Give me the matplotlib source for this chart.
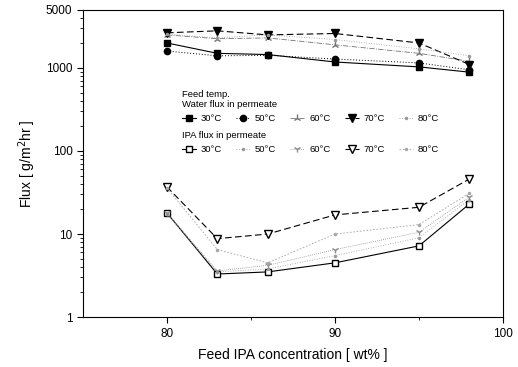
import matplotlib
matplotlib.use("Agg")
import matplotlib.pyplot as plt
from matplotlib.ticker import FixedLocator, NullFormatter

# feed IPA concentration (wt%)
conc = [80, 83, 86, 90, 95, 98]
temps = ["30°C", "50°C", "60°C", "70°C", "80°C"]

# water flux in permeate, g/m2hr
water_30 = [2000, 1500, 1450, 1180, 1030, 890]
water_50 = [1600, 1400, 1420, 1280, 1150, 950]
water_60 = [2500, 2250, 2300, 1900, 1500, 1200]
water_70 = [2650, 2800, 2500, 2600, 2000, 1100]
water_80 = [2550, 2300, 2500, 2200, 1700, 1400]

# IPA flux in permeate, g/m2hr
ipa_30 = [18, 3.3, 3.5, 4.5, 7.2, 23]
ipa_50 = [17.5, 3.5, 3.8, 5.5, 9, 26]
ipa_60 = [18, 3.6, 4.2, 6.5, 10.5, 28]
ipa_70 = [37, 8.8, 10, 17, 21, 46]
ipa_80 = [36, 6.5, 4.5, 10, 13, 31]

plt.rcParams['font.family'] = ['Liberation Sans', 'DejaVu Sans']

fig = plt.figure(figsize=(5.18, 3.67), dpi=100)
ax = fig.add_axes([0.160, 0.136, 0.811, 0.837])

water = [water_30, water_50, water_60, water_70, water_80]
ipa = [ipa_30, ipa_50, ipa_60, ipa_70, ipa_80]

w_style = [
    dict(color='black', ls='-', marker='s', ms=4.5, mfc='black', lw=0.8),
    dict(color='black', ls=(0, (1, 2)), marker='o', ms=4.5, mfc='black', lw=0.7),
    dict(color='0.45', ls='-.', marker='2', ms=5.5, lw=0.6),
    dict(color='black', ls=(0, (6, 3)), marker='v', ms=5.5, mfc='black', lw=0.8),
    dict(color='0.6', ls=(0, (1, 2)), marker='.', ms=3, lw=0.6),
]
i_style = [
    dict(color='black', ls='-', marker='s', ms=4.5, mfc='white', lw=0.8),
    dict(color='0.6', ls=(0, (1, 2)), marker='.', ms=3, lw=0.6),
    dict(color='0.55', ls=(0, (1, 1.5)), marker='1', ms=5, lw=0.6),
    dict(color='black', ls=(0, (6, 3)), marker='v', ms=5.5, mfc='white', lw=0.8),
    dict(color='0.65', ls=(0, (2, 2)), marker='.', ms=3, lw=0.6),
]

w_handles = []
for vals, st, t in zip(water, w_style, temps):
    h, = ax.plot(conc, vals, label=t, **st)
    w_handles.append(h)
i_handles = []
for vals, st, t in zip(ipa, i_style, temps):
    h, = ax.plot(conc, vals, label=t, **st)
    i_handles.append(h)

ax.set_yscale('log')
ax.set_xlim(75, 100)
ax.set_ylim(1, 5000)
ax.set_xticks([80, 90, 100])
ax.xaxis.set_minor_locator(FixedLocator([85, 95]))
ax.set_yticks([1, 10, 100, 1000, 5000])
ax.set_yticklabels(['1', '10', '100', '1000', '5000'])
ax.yaxis.set_minor_formatter(NullFormatter())
ax.tick_params(axis='both', which='major', direction='out', length=4, labelsize=8.5)
ax.tick_params(axis='both', which='minor', direction='out', length=2)

ax.set_xlabel('Feed IPA concentration [ wt% ]', fontsize=10, labelpad=6)
ax.set_ylabel('Flux [ g/m$^2$hr ]', fontsize=10, labelpad=6)

leg_kw = dict(ncol=5, frameon=False, fontsize=6.8, title_fontsize=6.8,
              alignment='left', loc='upper left', handlelength=1.5,
              handletextpad=0.5, columnspacing=1.5,
              borderaxespad=0, borderpad=0)
leg1 = ax.legend(handles=w_handles, title='Feed temp.\nWater flux in permeate',
                 bbox_to_anchor=(0.235, 0.74), **leg_kw)
ax.add_artist(leg1)
ax.legend(handles=i_handles, title='IPA flux in permeate',
          bbox_to_anchor=(0.235, 0.605), **leg_kw)

fig.savefig('out.png', dpi=100)
